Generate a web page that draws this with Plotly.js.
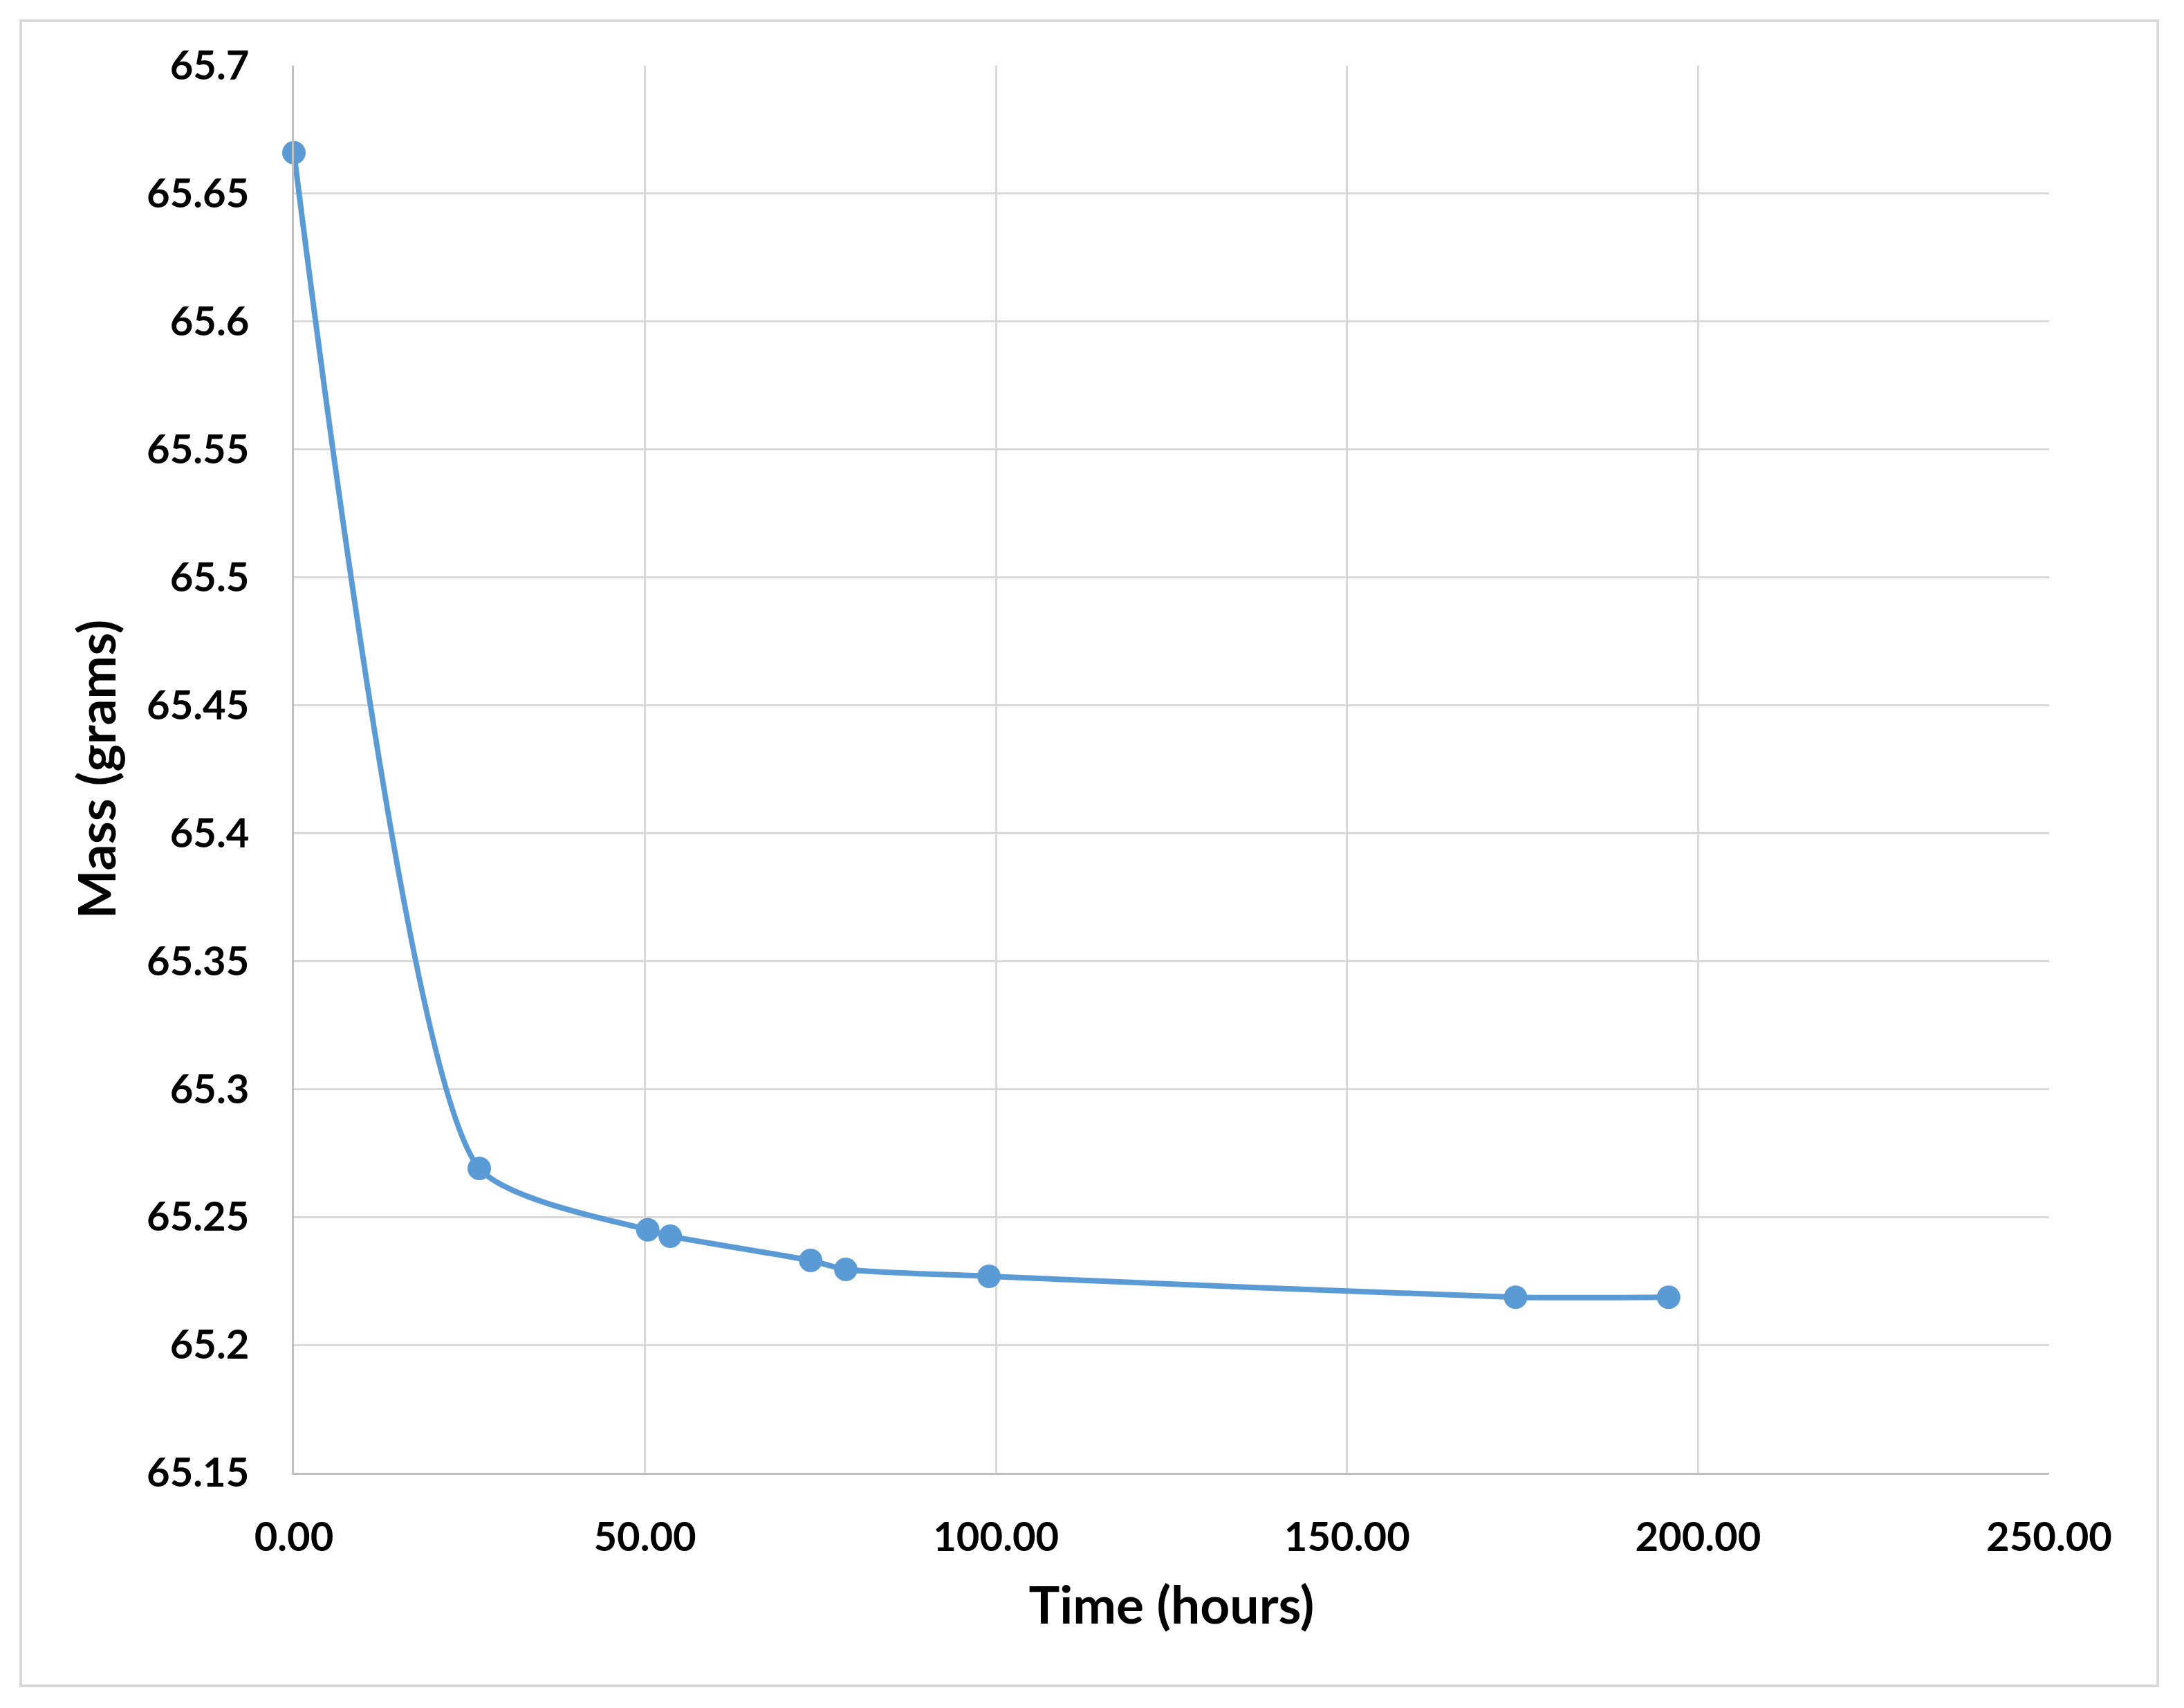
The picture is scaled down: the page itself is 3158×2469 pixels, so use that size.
<!DOCTYPE html>
<html>
<head>
<meta charset="utf-8">
<script src="https://cdn.plot.ly/plotly-3.0.1.min.js"></script>
<style>
  html, body { margin: 0; padding: 0; background: #fff; }
  #chart { width: 3158px; height: 2469px; }
</style>
</head>
<body>
<div id="chart"></div>
<script>
// readings
var timeHours = [0, 26.4, 50.4, 53.6, 73.6, 78.6, 99.0, 174.0, 195.8];
var massGrams = [65.666, 65.269, 65.245, 65.2425, 65.233, 65.2295, 65.2268, 65.2186, 65.2186];

var xTitle = 'Time (hours)';
var yTitle = 'Mass (grams)';

var blue = '#5B9BD5';
var grid = '#D9D9D9';
var fontFamily = 'Lato, "Open Sans", sans-serif';

var trace = {
  x: timeHours,
  y: massGrams,
  type: 'scatter',
  mode: 'lines+markers',
  cliponaxis: false,
  line: { color: blue, width: 8, shape: 'spline', smoothing: 0.6 },
  marker: { color: blue, size: 34 },
  hoverinfo: 'x+y'
};

var layout = {
  width: 3158,
  height: 2469,
  paper_bgcolor: '#fff',
  plot_bgcolor: '#fff',
  showlegend: false,
  margin: { l: 425, r: 195, t: 95, b: 340 },
  font: { family: fontFamily, color: '#000' },
  xaxis: {
    range: [0, 250],
    dtick: 50,
    tick0: 0,
    tickformat: '.2f',
    showgrid: true,
    gridcolor: grid,
    gridwidth: 3,
    zeroline: false,
    showline: true,
    linecolor: '#BFBFBF',
    linewidth: 3,
    ticks: '',
    ticklabelstandoff: 40,
    tickfont: { family: fontFamily, size: 58, weight: 700, color: '#000' },
    title: {
      text: xTitle,
      standoff: 42,
      font: { family: fontFamily, size: 75, weight: 700, color: '#000' }
    }
  },
  yaxis: {
    range: [65.15, 65.7],
    dtick: 0.05,
    tick0: 65.15,
    showgrid: true,
    gridcolor: grid,
    gridwidth: 3,
    zeroline: false,
    showline: true,
    linecolor: '#BFBFBF',
    linewidth: 3,
    ticks: '',
    ticklabelstandoff: 50,
    tickfont: { family: fontFamily, size: 58, weight: 700, color: '#000' },
    title: {
      text: yTitle,
      standoff: 20,
      font: { family: fontFamily, size: 75, weight: 700, color: '#000' }
    }
  },
  shapes: [{
    // outer chart frame
    type: 'rect',
    xref: 'paper', yref: 'paper',
    x0: -0.1556, x1: 1.0619, y0: -0.1514, y1: 1.032,
    line: { color: grid, width: 4 },
    fillcolor: 'rgba(0,0,0,0)',
    layer: 'below'
  }]
};

Plotly.newPlot('chart', [trace], layout, { displayModeBar: false, staticPlot: true });
</script>
</body>
</html>
